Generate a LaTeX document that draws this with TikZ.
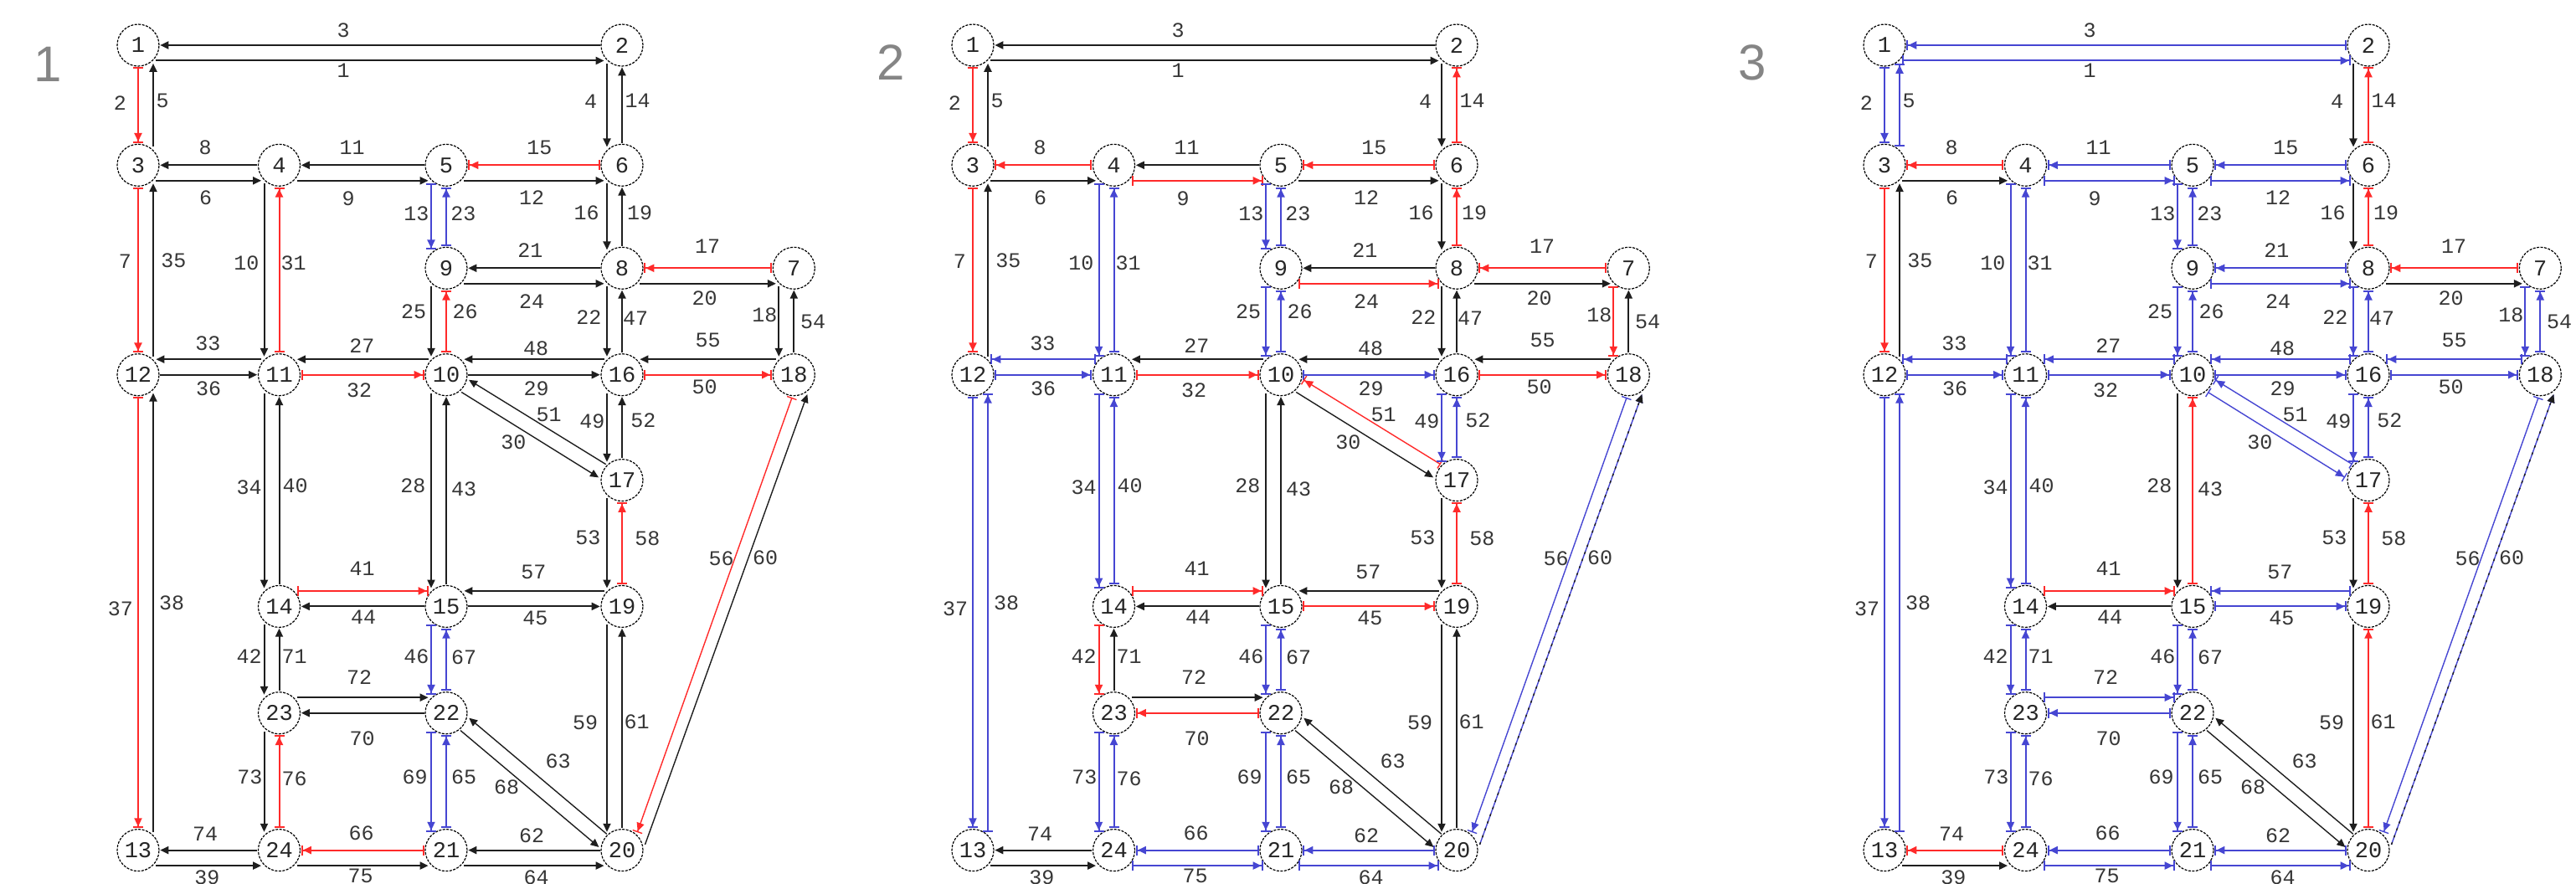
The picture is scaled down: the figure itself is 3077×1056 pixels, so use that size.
\documentclass[tikz,border=0pt]{standalone}
\usepackage{fontspec}
\usetikzlibrary{calc,arrows.meta}
\newfontfamily\monof{Liberation Mono}
\newfontfamily\sansf{Liberation Sans}
\definecolor{lineK}{HTML}{1E1E1E}
\definecolor{lineR}{HTML}{FF2A2A}
\definecolor{lineB}{HTML}{4646D2}
\definecolor{txt}{HTML}{363636}
\definecolor{ntxt}{HTML}{262626}
\definecolor{plabel}{HTML}{858585}
\newcommand\lblfont{\monof\fontsize{25}{25}\selectfont}
\newcommand\nodefont{\monof\fontsize{27}{27}\selectfont}
\newcommand\setcols[3]{\foreach \x in {#3}{\expandafter\xdef\csname lc#1-\x\endcsname{#2}}}
\newcommand\getcol[2]{\ifcsname lc#1-#2\endcsname\csname lc#1-#2\endcsname\else K\fi}
\setcols{A}{R}{2,7,15,17,26,31,32,37,41,50,56,58,66,76}
\setcols{A}{B}{13,23,46,67,65,69}
\setcols{B}{R}{2,7,8,9,14,15,17,18,19,24,32,41,42,45,50,51,58,70}
\setcols{B}{B}{10,13,23,25,26,29,31,33,34,36,37,38,40,46,49,52,56,62,64,65,66,67,69,73,75,76}
\setcols{B}{M}{60}
\setcols{C}{R}{7,8,14,17,19,41,43,58,61,74}
\setcols{C}{B}{1,2,3,5,9,10,11,12,13,15,18,21,22,23,24,25,26,27,29,30,31,32,33,34,36,37,38,40,42,45,46,47,48,49,50,51,52,54,55,56,57,62,64,65,66,67,69,70,71,72,73,75,76}
\setcols{C}{M}{60}
\newcommand\lnkdraw[8]{%
  \draw[lk#1, line width=\lw, shorten <=\sa pt, shorten >=\sb pt]
    ($(\pid#2)!#5pt!-90:(\pid#3)$) -- ($(\pid#3)!#6pt!90:(\pid#2)$);
  \node[lbl] (\pid l#4) at (#7,#8) {#4};}
\newcommand\lnk[7]{%
  \edef\lkcol{\getcol{\pid}{#3}}%
  \pgfmathsetmacro\sa{min(26.3,sqrt(max(800-(#4)*(#4),1)))}%
  \pgfmathsetmacro\sb{min(26.3,sqrt(max(800-(#5)*(#5),1)))}%
  \ifdim #4pt=#5pt \def\lw{2pt}\else\def\lw{1.4pt}\fi
  \expandafter\lnkdraw\expandafter{\lkcol}{#1}{#2}{#3}{#4}{#5}{#6}{#7}}
\newcommand\network{%
\node[nd] (\pid1) at (165,54) {1};
\node[nd] (\pid2) at (743,54) {2};
\node[nd] (\pid3) at (165,197.3) {3};
\node[nd] (\pid4) at (333.5,197.3) {4};
\node[nd] (\pid5) at (533,197.3) {5};
\node[nd] (\pid6) at (743,197.3) {6};
\node[nd] (\pid7) at (948.3,320.3) {7};
\node[nd] (\pid8) at (743,320.3) {8};
\node[nd] (\pid9) at (533,320.3) {9};
\node[nd] (\pid10) at (533,447.7) {10};
\node[nd] (\pid11) at (333.5,447.7) {11};
\node[nd] (\pid12) at (165,447.7) {12};
\node[nd] (\pid13) at (165,1015.6) {13};
\node[nd] (\pid14) at (333.5,724.4) {14};
\node[nd] (\pid15) at (533,724.4) {15};
\node[nd] (\pid16) at (743,447.7) {16};
\node[nd] (\pid17) at (743,573.6) {17};
\node[nd] (\pid18) at (948.3,447.7) {18};
\node[nd] (\pid19) at (743,724.4) {19};
\node[nd] (\pid20) at (743,1015.6) {20};
\node[nd] (\pid21) at (533,1015.6) {21};
\node[nd] (\pid22) at (533,851.7) {22};
\node[nd] (\pid23) at (333.5,851.7) {23};
\node[nd] (\pid24) at (333.5,1015.6) {24};
\lnk{2}{1}{3}{0}{0}{410}{36.2}
\lnk{1}{2}{1}{18.5}{18.5}{410}{84.4}
\lnk{1}{3}{2}{0}{0}{143.3}{123.3}
\lnk{3}{1}{5}{18}{18}{194}{120.6}
\lnk{6}{2}{14}{0}{0}{761.7}{120.6}
\lnk{2}{6}{4}{18}{18}{705.7}{121.2}
\lnk{4}{3}{8}{0}{0}{245}{176.4}
\lnk{3}{4}{6}{18.5}{18.5}{245.7}{236.6}
\lnk{3}{12}{7}{0}{0}{149.3}{312.3}
\lnk{12}{3}{35}{18}{18}{207.3}{311}
\lnk{5}{4}{11}{0}{0}{420.7}{176.4}
\lnk{4}{5}{9}{18.5}{18.5}{416}{237.6}
\lnk{11}{4}{31}{0}{0}{350.7}{314.4}
\lnk{4}{11}{10}{18}{18}{294.3}{314.4}
\lnk{6}{5}{15}{0}{0}{644.3}{176.4}
\lnk{5}{6}{12}{18.5}{18.5}{635}{236.6}
\lnk{9}{5}{23}{0}{0}{553.3}{254.9}
\lnk{5}{9}{13}{18}{18}{497.3}{254.9}
\lnk{8}{6}{19}{0}{0}{764}{253.8}
\lnk{6}{8}{16}{18}{18}{700.7}{253.8}
\lnk{7}{8}{17}{0}{0}{845}{294.5}
\lnk{8}{7}{20}{18.5}{18.5}{841.7}{356.4}
\lnk{18}{7}{54}{0}{0}{971}{384}
\lnk{7}{18}{18}{18}{18}{913.3}{376.1}
\lnk{8}{9}{21}{0}{0}{633.3}{298.9}
\lnk{9}{8}{24}{18.5}{18.5}{635}{360.6}
\lnk{16}{8}{47}{0}{0}{759}{380.5}
\lnk{8}{16}{22}{18}{18}{703.3}{379.5}
\lnk{10}{9}{26}{0}{0}{555.7}{371.9}
\lnk{9}{10}{25}{18}{18}{494}{372.7}
\lnk{11}{10}{32}{0}{0}{429}{466.7}
\lnk{10}{11}{27}{18.5}{18.5}{432.3}{413.3}
\lnk{15}{10}{43}{0}{0}{554}{583.9}
\lnk{10}{15}{28}{18}{18}{493.3}{580.5}
\lnk{10}{16}{29}{0}{0}{640.7}{464.2}
\lnk{16}{10}{48}{18.5}{18.5}{640}{416.7}
\lnk{10}{17}{30}{8}{12}{613.3}{528}
\lnk{17}{10}{51}{6}{9}{655.7}{494.9}
\lnk{12}{11}{36}{0}{0}{249}{464.2}
\lnk{11}{12}{33}{18.5}{18.5}{248.3}{409.9}
\lnk{14}{11}{40}{0}{0}{352.7}{580.5}
\lnk{11}{14}{34}{18}{18}{297.7}{582.2}
\lnk{12}{13}{37}{0}{0}{144}{726.8}
\lnk{13}{12}{38}{18}{18}{205}{720}
\lnk{24}{13}{74}{0}{0}{245}{995.8}
\lnk{13}{24}{39}{18.5}{18.5}{247.3}{1048}
\lnk{15}{14}{44}{0}{0}{434}{737.7}
\lnk{14}{15}{41}{-18.5}{-18.5}{432.7}{679.7}
\lnk{23}{14}{71}{0}{0}{351.7}{783.9}
\lnk{14}{23}{42}{18}{18}{297.7}{783.9}
\lnk{15}{19}{45}{0}{0}{639.3}{738.7}
\lnk{19}{15}{57}{18.5}{18.5}{637.3}{683.1}
\lnk{22}{15}{67}{0}{0}{554}{785}
\lnk{15}{22}{46}{18}{18}{497.3}{783.9}
\lnk{17}{16}{52}{0}{0}{768.3}{501.8}
\lnk{16}{17}{49}{18}{18}{707.3}{503.5}
\lnk{16}{18}{50}{0}{0}{841.7}{462.5}
\lnk{18}{16}{55}{18.5}{18.5}{845.7}{406.3}
\lnk{19}{17}{58}{0}{0}{773.3}{643.1}
\lnk{17}{19}{53}{18}{18}{702.3}{642}
\lnk{18}{20}{56}{-7}{-10}{861.7}{667.7}
\lnk{20}{18}{60}{23.6}{23}{914}{665.9}
\lnk{20}{19}{61}{0}{0}{760.7}{861.8}
\lnk{19}{20}{59}{18}{18}{699}{863.5}
\lnk{20}{21}{62}{0}{0}{635}{998.6}
\lnk{21}{20}{64}{18.5}{18.5}{640.7}{1048}
\lnk{20}{22}{63}{3}{13}{666.7}{909.7}
\lnk{22}{20}{68}{5}{15}{605}{940.5}
\lnk{21}{22}{65}{0}{0}{554}{928.5}
\lnk{22}{21}{69}{18}{18}{495.7}{928.5}
\lnk{21}{24}{66}{0}{0}{431.7}{995.1}
\lnk{24}{21}{75}{18.5}{18.5}{430.7}{1046}
\lnk{22}{23}{70}{0}{0}{432.7}{882.3}
\lnk{23}{22}{72}{-18.5}{-18.5}{429}{808.9}
\lnk{24}{23}{76}{0}{0}{351.7}{930.2}
\lnk{23}{24}{73}{18}{18}{298.3}{928.5}
}
\begin{document}
\begin{tikzpicture}[x=1pt,y=-1pt,
  nd/.style={circle, draw=black, line width=1.2pt, dash pattern=on 3pt off 1.5pt,
    minimum size=50pt, inner sep=0pt, font=\nodefont, text=ntxt, fill=white},
  lbl/.style={font=\lblfont, text=txt, inner sep=0pt},
  plab/.style={font=\sansf\fontsize{60}{60}\selectfont, text=plabel, inner sep=0pt},
  lkK/.style={draw=lineK, -{Triangle[length=10pt,width=9pt]}},
  lkR/.style={draw=lineR, {Bar[width=12pt]}-{Triangle[length=10pt,width=9pt]Bar[width=12pt]}},
  lkB/.style={draw=lineB, {Bar[width=12pt]}-{Triangle[length=10pt,width=9pt]Bar[width=12pt]}},
  lkM/.style={draw=lineB, -{Triangle[length=10pt,width=9pt]},
    postaction={draw=lineK, dash pattern=on 3pt off 6pt}}]
\useasboundingbox (0,0) rectangle (3077,1056);
\node[plab] (P1) at (56.7,77) {1};
\node[plab] (P2) at (1063.7,75) {2};
\node[plab] (P3) at (2093.3,75) {3};
\begin{scope}\def\pid{A}\network\end{scope}
\begin{scope}[shift={(997,0)}]\def\pid{B}\network\end{scope}
\begin{scope}[shift={(2086,0)}]\def\pid{C}\network\end{scope}
\end{tikzpicture}
\end{document}
